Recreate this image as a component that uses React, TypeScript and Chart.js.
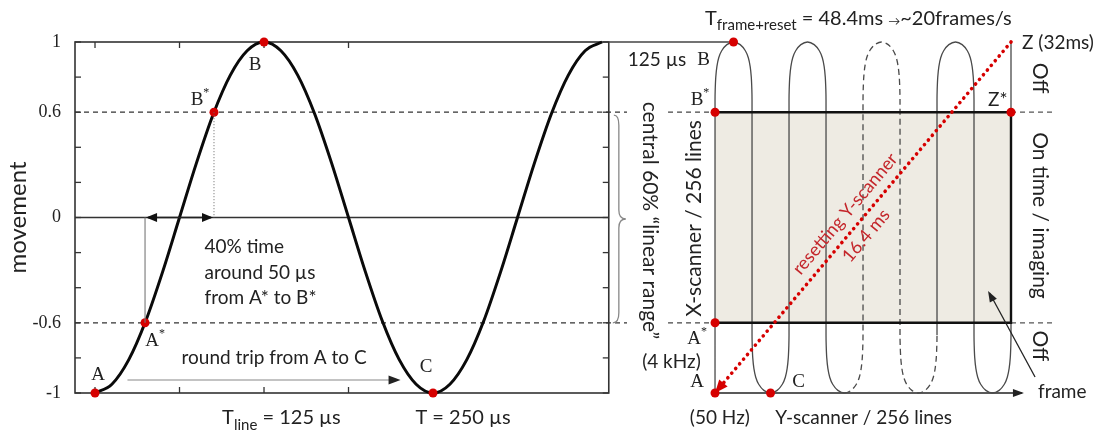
import React, { useEffect, useRef } from 'react';
import { Chart, registerables } from 'chart.js';

Chart.register(...registerables);

// ---------- Left panel: resonant X-scanner movement vs time (µs) ----------
const timeUs = [0, 12.5, 25, 37.5, 50, 62.5, 75, 87.5, 100, 112.5, 125, 137.5, 150, 162.5, 175, 187.5, 200,
  212.5, 225, 237.5, 250, 262.5, 275, 287.5, 300, 312.5, 325, 337.5, 350, 362.5, 375];
const movement = [-1, -0.95, -0.81, -0.59, -0.31, 0, 0.31, 0.59, 0.81, 0.95, 1, 0.95, 0.81, 0.59, 0.31, 0,
  -0.31, -0.59, -0.81, -0.95, -1, -0.95, -0.81, -0.59, -0.31, 0, 0.31, 0.59, 0.81, 0.95, 1];
const leftPointLabels = ['A', 'A*', 'B*', 'B', 'C'];
const leftPointTime = [0, 37, 88, 125, 250];
const leftPointMove = [-1, -0.6, 0.6, 1, -1];
const yTickLabels = [1, 0.6, 0, -0.6, -1];
const linearRange = [0.6, -0.6];
const xTickTimes = [0, 62.5, 125, 187.5];

// ---------- Right panel: scan pattern (Y-scanner lines vs X-scanner movement) ----------
const legPositions = [0, 1, 2, 3, 4, 5, 6, 7, 8];
const arcU = [0, 0.005, 0.02, 0.05, 0.1, 0.18, 0.32, 0.5, 0.68, 0.82, 0.9, 0.95, 0.98, 0.995, 1];
const arcDrop = [0.33, 0.27, 0.2, 0.14, 0.09, 0.05, 0.015, 0, 0.015, 0.05, 0.09, 0.14, 0.2, 0.27, 0.33];
const dashedLegRange = [3.5, 6];
const rightPointLabels = ['B', 'B*', 'A*', 'A', 'C', 'Z*'];
const rightPointX = [0.5, 0, 0, 0, 1.5, 8];
const rightPointMove = [1, 0.6, -0.6, -1, -1, 0.6];
const imagingBox = { x0: 0, x1: 8, top: 0.6, bottom: -0.6 };
const resetFrom = { x: 8, y: 1 };
const resetTo = { x: 0, y: -1 };

const INK = '#222';
const RED = '#d60000';
const SANS = 'Lato, "Open Sans", sans-serif';
const SERIF = '"Liberation Serif", "DejaVu Serif", serif';

function buildScanPath() {
  const pts: { x: number; y: number }[] = [{ x: legPositions[0], y: -1 }];
  for (let i = 0; i < legPositions.length - 1; i++) {
    const a = legPositions[i];
    const b = legPositions[i + 1];
    const top = i % 2 === 0;
    for (let k = 0; k < arcU.length; k++) {
      pts.push({ x: a + (b - a) * arcU[k], y: top ? 1 - arcDrop[k] : -1 + arcDrop[k] });
    }
  }
  pts.push({ x: legPositions[legPositions.length - 1], y: 1 });
  return pts;
}

function seg(ctx: CanvasRenderingContext2D, x1: number, y1: number, x2: number, y2: number, color: string, w: number, dash: number[] = []) {
  ctx.save();
  ctx.strokeStyle = color;
  ctx.lineWidth = w;
  ctx.setLineDash(dash);
  ctx.beginPath();
  ctx.moveTo(x1, y1);
  ctx.lineTo(x2, y2);
  ctx.stroke();
  ctx.restore();
}

function head(ctx: CanvasRenderingContext2D, tx: number, ty: number, fx: number, fy: number, len: number, hw: number, color: string) {
  const a = Math.atan2(ty - fy, tx - fx);
  ctx.save();
  ctx.fillStyle = color;
  ctx.translate(tx, ty);
  ctx.rotate(a);
  ctx.beginPath();
  ctx.moveTo(0, 0);
  ctx.lineTo(-len, -hw);
  ctx.lineTo(-len, hw);
  ctx.closePath();
  ctx.fill();
  ctx.restore();
}

function text(ctx: CanvasRenderingContext2D, s: string, x: number, y: number, font: string, align: CanvasTextAlign = 'left', rot = 0, color = INK) {
  ctx.save();
  ctx.translate(x, y);
  if (rot) ctx.rotate(rot);
  ctx.font = font;
  ctx.fillStyle = color;
  ctx.textAlign = align;
  ctx.textBaseline = 'middle';
  ctx.fillText(s, 0, 0);
  ctx.restore();
}

type Part = [string, string, number];
function rich(ctx: CanvasRenderingContext2D, parts: Part[], x: number, y: number, align: 'left' | 'center' = 'left', color = INK) {
  ctx.save();
  ctx.textBaseline = 'middle';
  ctx.textAlign = 'left';
  ctx.fillStyle = color;
  let total = 0;
  for (const [s, f] of parts) { ctx.font = f; total += ctx.measureText(s).width; }
  let cx = align === 'center' ? x - total / 2 : x;
  for (const [s, f, dy] of parts) {
    ctx.font = f;
    ctx.fillText(s, cx, y + dy);
    cx += ctx.measureText(s).width;
  }
  ctx.restore();
}

function serifLabel(ctx: CanvasRenderingContext2D, label: string, x: number, y: number) {
  const star = label.endsWith('*');
  const base = star ? label.slice(0, -1) : label;
  const parts: Part[] = [[base, `19px ${SERIF}`, 0]];
  if (star) parts.push(['*', `12px ${SERIF}`, -7]);
  rich(ctx, parts, x, y, 'center');
}

const annotations = {
  id: 'annotations',
  beforeDatasetsDraw(chart: any) {
    const { ctx, chartArea, scales } = chart;
    const X = (v: number) => scales.x.getPixelForValue(v);
    const X2 = (v: number) => scales.x2.getPixelForValue(v);
    const Y = (v: number) => scales.y.getPixelForValue(v);
    const left = chartArea.left;
    const right = X(380);
    const top = Y(1);
    const bottom = Y(-1);

    // zero line
    seg(ctx, left, Y(0), right, Y(0), '#333', 1.3);
    // linear range dashed lines
    for (const v of linearRange) {
      seg(ctx, left, Y(v), X(393.5), Y(v), '#333', 1.2, [5, 4]);
      seg(ctx, X2(-1.27), Y(v), X2(imagingBox.x0), Y(v), '#444', 1.2, [5, 4]);
      seg(ctx, X2(imagingBox.x1), Y(v), X2(9.14), Y(v), '#555', 1.2, [5, 4]);
    }
    // frame of left plot
    ctx.save();
    ctx.strokeStyle = '#333';
    ctx.lineWidth = 1.6;
    ctx.strokeRect(left, top, right - left, bottom - top);
    ctx.restore();
    // projection of B onto right panel
    seg(ctx, right, top, X2(0.5), top, '#444', 1.4);
    // inward ticks
    for (const t of scales.y.ticks) {
      const py = Y(t.value);
      seg(ctx, left, py, left + 6, py, '#333', 1.3);
      seg(ctx, right - 6, py, right, py, '#333', 1.3);
    }
    for (const t of xTickTimes) {
      seg(ctx, X(t), top, X(t), top + 6, '#333', 1.3);
      seg(ctx, X(t), bottom - 6, X(t), bottom, '#333', 1.3);
    }
    // right panel frame axis arrow
    seg(ctx, X2(0), bottom, X2(8.3), bottom, '#222', 1.5);
    head(ctx, X2(8.35), bottom, X2(0), bottom, 11, 4, '#222');
  },
  afterDatasetsDraw(chart: any) {
    const { ctx, scales } = chart;
    const X = (v: number) => scales.x.getPixelForValue(v);
    const X2 = (v: number) => scales.x2.getPixelForValue(v);
    const Y = (v: number) => scales.y.getPixelForValue(v);
    const F = (n: number) => `${n}px ${SANS}`;

    // ---- left panel annotations ----
    text(ctx, 'movement', 18, Y(0), F(24), 'center', -Math.PI / 2);
    const lo = [[3, -18], [10, 18], [-14, -12], [-9, 23], [-7, -26]];
    leftPointLabels.forEach((l, i) => {
      serifLabel(ctx, l, X(leftPointTime[i]) + lo[i][0], Y(leftPointMove[i]) + lo[i][1]);
    });
    // A* to B* time bracket
    seg(ctx, X(leftPointTime[1]), Y(-0.6), X(leftPointTime[1]), Y(0), '#777', 1.1);
    seg(ctx, X(leftPointTime[2]), Y(0.6), X(leftPointTime[2]), Y(0), '#666', 1, [1, 2]);
    seg(ctx, X(leftPointTime[1]) + 3, Y(0), X(leftPointTime[2]) - 3, Y(0), '#222', 1.3);
    head(ctx, X(leftPointTime[1]) + 1, Y(0), X(leftPointTime[2]), Y(0), 11, 4.5, '#111');
    head(ctx, X(leftPointTime[2]) - 1, Y(0), X(leftPointTime[1]), Y(0), 11, 4.5, '#111');
    text(ctx, '40% time', X(81), Y(0) + 29, F(19));
    text(ctx, 'around 50 µs', X(81), Y(0) + 55, F(19));
    text(ctx, 'from A* to B*', X(81), Y(0) + 80, F(19));
    // round trip
    text(ctx, 'round trip from A to C', X(64), Y(-0.8), F(19));
    seg(ctx, X(24), Y(-0.926), X(222), Y(-0.926), '#888', 1.2);
    head(ctx, X(226), Y(-0.926), X(24), Y(-0.926), 12, 4.5, '#222');
    // periods
    const by = Y(-1) + 25;
    rich(ctx, [['T', F(20), 0], ['line', F(15), 7], [' = 125 µs', F(20), 0]], X(94), by);
    text(ctx, 'T = 250 µs', X(237), by, F(20));

    // ---- middle ----
    text(ctx, '125 µs', X2(-2.36), Y(1) + 18, F(19));
    // brace
    const bx = X2(-2.6);
    const t0 = Y(linearRange[0]) + 3;
    const t1 = Y(linearRange[1]);
    const mid = (t0 + t1) / 2;
    ctx.save();
    ctx.strokeStyle = '#888';
    ctx.lineWidth = 1.3;
    ctx.beginPath();
    ctx.moveTo(bx - 5, t0);
    ctx.quadraticCurveTo(bx, t0, bx, t0 + 10);
    ctx.lineTo(bx, mid - 9);
    ctx.quadraticCurveTo(bx, mid, bx + 7, mid);
    ctx.quadraticCurveTo(bx, mid, bx, mid + 9);
    ctx.lineTo(bx, t1 - 10);
    ctx.quadraticCurveTo(bx, t1, bx - 6, t1);
    ctx.stroke();
    ctx.restore();
    text(ctx, 'central 60% \u201clinear range\u201d', X2(-1.76), Y(0) + 3, F(21), 'center', Math.PI / 2);
    text(ctx, '(4 kHz)', X2(-1.97), Y(-0.82), F(19));

    // ---- right panel ----
    rich(ctx, [['T', F(20), 0], ['frame+reset', F(15), 6], [' = 48.4ms ', F(20), 0], ['\u2192', F(12), 2], ['~20frames/s', F(20), 0]], X2(-0.27), 19);
    const ro = [[-30, 18], [-15, -12], [-18, 16], [-18, -11], [28, -11]];
    rightPointLabels.forEach((l, i) => {
      if (l === 'Z*') return;
      serifLabel(ctx, l, X2(rightPointX[i]) + ro[i][0], Y(rightPointMove[i]) + ro[i][1]);
    });
    text(ctx, 'Z*', X2(8) - 23, Y(0.6) - 12, F(19));
    text(ctx, 'Z (32ms)', X2(8) + 11, Y(1) + 1, F(19));
    text(ctx, 'X-scanner / 256 lines', X2(-0.55), Y(0) + 1, F(21), 'center', -Math.PI / 2);
    const sx = X2(8) + 29;
    text(ctx, 'Off', sx, (Y(1) + Y(0.6)) / 2 + 1, F(21), 'center', Math.PI / 2);
    text(ctx, 'On time / imaging', sx, Y(0) - 2, F(21), 'center', Math.PI / 2);
    text(ctx, 'Off', sx, (Y(-1) + Y(-0.6)) / 2 - 12, F(21), 'center', Math.PI / 2);
    text(ctx, 'frame', X2(8.73), Y(-1) - 1, F(19));
    seg(ctx, X2(8.65), Y(-0.909), X2(7.42), Y(-0.43), '#222', 1.3);
    head(ctx, X2(7.38), Y(-0.419), X2(8.65), Y(-0.909), 11, 4, '#222');
    text(ctx, '(50 Hz)', X2(-0.68), Y(-1) + 25, F(19));
    text(ctx, 'Y-scanner / 256 lines', X2(1.63), Y(-1) + 25, F(19));

    // reset arrow head and label
    const ax = X2(resetTo.x), ay = Y(resetTo.y);
    const zx = X2(resetFrom.x), zy = Y(resetFrom.y);
    head(ctx, ax, ay, zx, zy, 13, 5.5, RED);
    const ang = Math.atan2(zy - ay, zx - ax);
    const len = Math.hypot(zx - ax, zy - ay);
    const ux = (zx - ax) / len, uy = (zy - ay) / len;
    const nx = uy, ny = -ux; // up-left normal
    const p1 = { x: ax + ux * len * 0.481 + nx * 16, y: ay + uy * len * 0.481 + ny * 16 };
    const p2 = { x: ax + ux * len * 0.474 - nx * 14, y: ay + uy * len * 0.474 - ny * 14 };
    text(ctx, 'resetting Y-scanner', p1.x, p1.y, F(18), 'center', ang, '#c4262b');
    text(ctx, '16.4 ms', p2.x, p2.y, F(18), 'center', ang, '#c4262b');
  },
};

export default function App() {
  const ref = useRef<HTMLCanvasElement>(null);
  useEffect(() => {
    const canvas = ref.current;
    if (!canvas) return;
    const path = buildScanPath();
    const isDashed = (i0: number, i1: number) => {
      const x0 = path[i0].x, x1 = path[i1].x;
      if (x0 === dashedLegRange[1] && x1 === dashedLegRange[1]) return false;
      return Math.min(x0, x1) >= dashedLegRange[0] - 1e-9 && Math.max(x0, x1) <= dashedLegRange[1] + 1e-9;
    };
    const chart = new Chart(canvas, {
      type: 'line',
      data: {
        datasets: [
          {
            label: 'points left',
            xAxisID: 'x',
            data: leftPointTime.map((t, i) => ({ x: t, y: leftPointMove[i] })),
            showLine: false,
            pointRadius: 4.5,
            pointBackgroundColor: RED,
            pointBorderWidth: 0,
            clip: false,
            order: 0,
          },
          {
            label: 'points right',
            xAxisID: 'x2',
            data: rightPointX.map((x, i) => ({ x, y: rightPointMove[i] })),
            showLine: false,
            pointRadius: 4.5,
            pointBackgroundColor: RED,
            pointBorderWidth: 0,
            clip: false,
            order: 0,
          },
          {
            label: 'reset',
            xAxisID: 'x2',
            data: [resetFrom, resetTo],
            borderColor: RED,
            borderWidth: 3.6,
            borderDash: [0.1, 6],
            borderCapStyle: 'round',
            pointRadius: 0,
            clip: false,
            order: 1,
          },
          {
            label: 'box border',
            xAxisID: 'x2',
            data: [
              { x: imagingBox.x0, y: imagingBox.top },
              { x: imagingBox.x1, y: imagingBox.top },
              { x: imagingBox.x1, y: imagingBox.bottom },
              { x: imagingBox.x0, y: imagingBox.bottom },
            ],
            borderColor: '#111',
            borderWidth: 2.4,
            pointRadius: 0,
            clip: false,
            order: 2,
          },
          {
            label: 'movement',
            xAxisID: 'x',
            data: timeUs.map((t, i) => ({ x: t, y: movement[i] })),
            borderColor: '#0a0a0a',
            borderWidth: 3,
            pointRadius: 0,
            cubicInterpolationMode: 'monotone',
            clip: false,
            order: 3,
          },
          {
            label: 'scan path',
            xAxisID: 'x2',
            data: path,
            borderColor: '#4a4a4a',
            borderWidth: 1.3,
            pointRadius: 0,
            tension: 0.3,
            clip: false,
            order: 4,
            segment: {
              borderDash: (c: any) => (isDashed(c.p0DataIndex, c.p1DataIndex) ? [6, 4] : undefined),
            },
          },
          {
            label: 'box fill',
            xAxisID: 'x2',
            data: [
              { x: imagingBox.x0, y: imagingBox.top },
              { x: imagingBox.x1, y: imagingBox.top },
            ],
            borderWidth: 0,
            pointRadius: 0,
            backgroundColor: '#eeebe3',
            fill: { value: imagingBox.bottom },
            order: 10,
          },
        ] as any,
      },
      options: {
        animation: false,
        responsive: false,
        layout: { padding: { top: 42, bottom: 41, right: 88, left: 0 } },
        plugins: { legend: { display: false }, tooltip: { enabled: false } },
        scales: {
          x: { type: 'linear', min: -14.8, max: 677.5, display: false },
          x2: { type: 'linear', min: -17.3, max: 8, display: false },
          y: {
            type: 'linear',
            min: -1,
            max: 1,
            position: 'left',
            afterFit: (s: any) => { s.width = 75; },
            grid: { display: false, drawTicks: false },
            border: { display: false },
            ticks: {
              stepSize: 0.2,
              padding: 14,
              color: INK,
              font: { family: SERIF, size: 18 },
              callback: (v: any) => {
                const r = Math.round(Number(v) * 10) / 10;
                return yTickLabels.includes(r) ? String(r) : '';
              },
            },
          },
        },
      } as any,
      plugins: [annotations],
    });
    return () => chart.destroy();
  }, []);
  return (
    <div style={{ position: 'absolute', left: 0, top: 0, width: 1099, height: 434, background: '#fff' }}>
      <canvas ref={ref} width={1099} height={434} style={{ display: 'block' }} />
    </div>
  );
}
